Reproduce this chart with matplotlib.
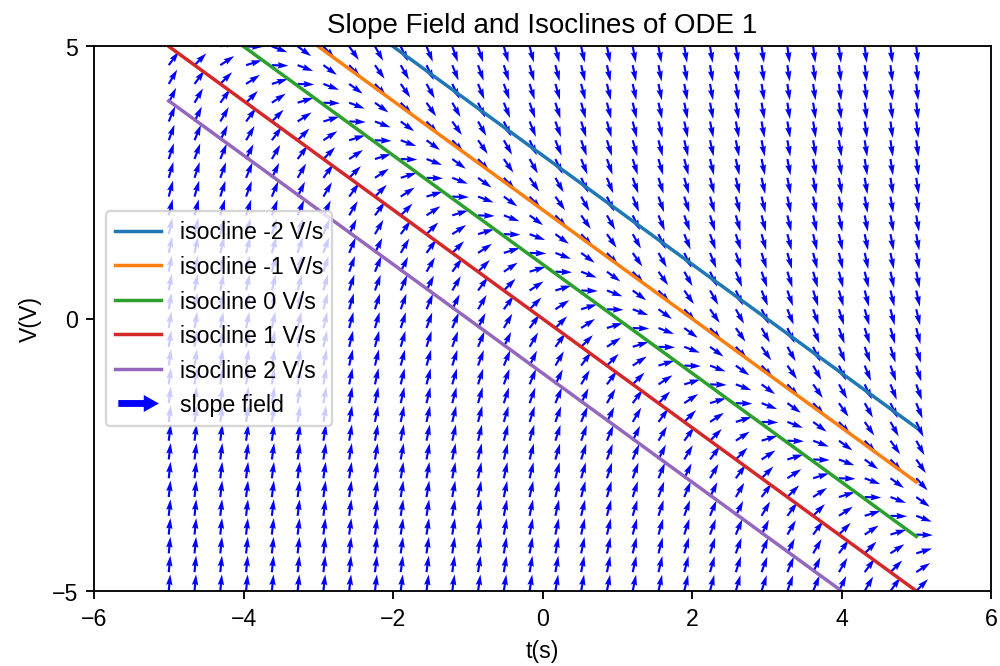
import numpy as np
import matplotlib
matplotlib.use("Agg")
import matplotlib.pyplot as plt
from matplotlib.patches import FancyArrow
from matplotlib.legend_handler import HandlerPatch

plt.rcParams['font.family'] = ['Liberation Sans', 'DejaVu Sans']

# ODE 1: dV/dt = 1 - t - V
t_range = (-5, 5)
v_range = (-5, 5)
n_grid = 30
iso_slopes = [-2, -1, 0, 1, 2]
iso_colors = ['#1f77b4', '#ff7f0e', '#2ca02c', '#d62728', '#9467bd']


def f(t, v):
    return 1 - t - v


DPI = 1000 / 6
fig, ax = plt.subplots(figsize=(6, 4), dpi=DPI)
fig.subplots_adjust(left=0.094, right=0.991, top=1 - 47 / 666, bottom=1 - 591 / 666)

T, V = np.meshgrid(np.linspace(*t_range, n_grid), np.linspace(*v_range, n_grid))
S = f(T, V)
norm = np.sqrt(1 + S ** 2)
q = ax.quiver(T, V, 1 / norm, S / norm, color='blue')

# isoclines: 1 - t - V = c  ->  V = 1 - c - t
for c, col in zip(iso_slopes, iso_colors):
    t_lo = max(t_range[0], 1 - c - v_range[1])
    t_hi = min(t_range[1], 1 - c - v_range[0])
    tt = np.array([t_lo, t_hi])
    ax.plot(tt, 1 - c - tt, color=col, linewidth=1.5, label='isocline %d V/s' % c)

ax.set_xlim(-6, 6)
ax.set_ylim(-5, 5)
ax.set_xticks([-6, -4, -2, 0, 2, 4, 6])
ax.set_yticks([-5, 0, 5])
ax.set_xlabel('t(s)')
ax.set_ylabel('V(V)')
ax.set_title('Slope Field and Isoclines of ODE 1')


def make_arrow(legend, orig_handle, xdescent, ydescent, width, height, fontsize):
    return FancyArrow(0.1 * width, 0.5 * height, 0.8 * width, 0, width=0.28 * height,
                      head_width=0.8 * height, head_length=0.25 * width,
                      length_includes_head=True)


proxy = FancyArrow(0, 0, 1, 0, color='blue', label='slope field')
handles, labels = ax.get_legend_handles_labels()
ax.legend(handles + [proxy], labels + ['slope field'], loc='center left',
          handler_map={FancyArrow: HandlerPatch(patch_func=make_arrow)})

fig.savefig('out.png', dpi=DPI)
